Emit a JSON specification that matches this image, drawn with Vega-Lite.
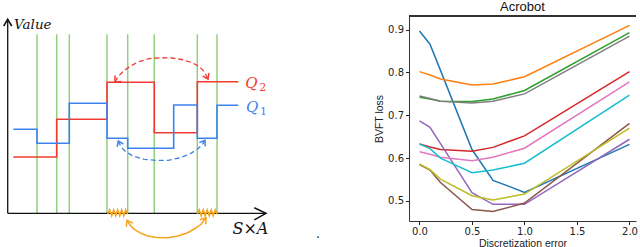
{
"$schema": "https://vega.github.io/schema/vega-lite/v6.json",
"padding": 0,
"background": "white",
"spacing": 33,
"config": {"view": {"stroke": null}, "font": "DejaVu Sans"},
"resolve": {"scale": {"color": "independent"}},
"datasets": {
"steps": [
{"series":"Q2","x":5.6,"y":56.3},{"series":"Q2","x":49,"y":94},{"series":"Q2","x":99.3,"y":131},{"series":"Q2","x":146.6,"y":80.6},{"series":"Q2","x":189.6,"y":131.6},{"series":"Q2","x":230.6,"y":131.6},
{"series":"Q1","x":5.6,"y":84},{"series":"Q1","x":29.3,"y":70},{"series":"Q1","x":61.6,"y":110},{"series":"Q1","x":99.3,"y":75},{"series":"Q1","x":120,"y":65},{"series":"Q1","x":166,"y":108.3},{"series":"Q1","x":189.6,"y":75},{"series":"Q1","x":209.3,"y":108},{"series":"Q1","x":230.6,"y":108}
],
"cuts": [{"x":29.3,"y":0,"y2":179},{"x":49,"y":0,"y2":179},{"x":61.6,"y":0,"y2":179},{"x":99.3,"y":0,"y2":179},{"x":120,"y":0,"y2":179},{"x":146.6,"y":0,"y2":179},{"x":189.6,"y":0,"y2":179},{"x":209.3,"y":0,"y2":179}],
"axes": [{"x":0,"y":0,"x2":0,"y2":194},{"x":0,"y":0,"x2":258.3,"y2":0}],
"dashed": [
{"path":"a2","series":"Q2","i":0,"x":107.3,"y":131.3},{"path":"a2","series":"Q2","i":1,"x":110.3,"y":136.5},{"path":"a2","series":"Q2","i":2,"x":115,"y":141.5},{"path":"a2","series":"Q2","i":3,"x":122,"y":146.8},{"path":"a2","series":"Q2","i":4,"x":131,"y":151.6},{"path":"a2","series":"Q2","i":5,"x":141.5,"y":154.6},{"path":"a2","series":"Q2","i":6,"x":153.3,"y":155.6},{"path":"a2","series":"Q2","i":7,"x":164,"y":155.3},{"path":"a2","series":"Q2","i":8,"x":174,"y":153.8},{"path":"a2","series":"Q2","i":9,"x":184,"y":150.8},{"path":"a2","series":"Q2","i":10,"x":191.5,"y":146.8},{"path":"a2","series":"Q2","i":11,"x":196.5,"y":141.8},{"path":"a2","series":"Q2","i":12,"x":200.3,"y":134.3},
{"path":"a1","series":"Q1","i":0,"x":110.6,"y":72.3},{"path":"a1","series":"Q1","i":1,"x":113.3,"y":66.3},{"path":"a1","series":"Q1","i":2,"x":118.3,"y":61.3},{"path":"a1","series":"Q1","i":3,"x":125.3,"y":57.3},{"path":"a1","series":"Q1","i":4,"x":136.3,"y":54},{"path":"a1","series":"Q1","i":5,"x":148.3,"y":52.8},{"path":"a1","series":"Q1","i":6,"x":160.3,"y":53},{"path":"a1","series":"Q1","i":7,"x":171.3,"y":55.3},{"path":"a1","series":"Q1","i":8,"x":181.3,"y":58.8},{"path":"a1","series":"Q1","i":9,"x":189.3,"y":63.8},{"path":"a1","series":"Q1","i":10,"x":194.3,"y":68.3},{"path":"a1","series":"Q1","i":11,"x":197.3,"y":73}
],
"solid": [
{"path":"ya","series":"axis","i":0,"x":-4,"y":187.3},{"path":"ya","series":"axis","i":1,"x":0,"y":194},{"path":"ya","series":"axis","i":2,"x":4,"y":187.3},
{"path":"xa","series":"axis","i":0,"x":246.6,"y":5.5},{"path":"xa","series":"axis","i":1,"x":258.3,"y":0},{"path":"xa","series":"axis","i":2,"x":246.6,"y":-6.5},
{"path":"h21","series":"Q2","i":0,"x":107.3,"y":137.8},{"path":"h21","series":"Q2","i":1,"x":107.3,"y":131.3},{"path":"h21","series":"Q2","i":2,"x":113.8,"y":131.8},
{"path":"h22","series":"Q2","i":0,"x":195,"y":137.2},{"path":"h22","series":"Q2","i":1,"x":200.3,"y":134.3},{"path":"h22","series":"Q2","i":2,"x":201.2,"y":140.3},
{"path":"h11","series":"Q1","i":0,"x":115.7,"y":69.2},{"path":"h11","series":"Q1","i":1,"x":110.6,"y":72.3},{"path":"h11","series":"Q1","i":2,"x":109.5,"y":66.4},
{"path":"h12","series":"Q1","i":0,"x":197.5,"y":67},{"path":"h12","series":"Q1","i":1,"x":197.3,"y":73},{"path":"h12","series":"Q1","i":2,"x":191.7,"y":70.8},
{"path":"oa","series":"link","i":0,"x":119.3,"y":-7},{"path":"oa","series":"link","i":1,"x":122.3,"y":-11.7},{"path":"oa","series":"link","i":2,"x":126.6,"y":-16},{"path":"oa","series":"link","i":3,"x":133.3,"y":-20},{"path":"oa","series":"link","i":4,"x":140,"y":-22.7},{"path":"oa","series":"link","i":5,"x":149.3,"y":-24.2},{"path":"oa","series":"link","i":6,"x":160,"y":-24.4},{"path":"oa","series":"link","i":7,"x":170.3,"y":-22.7},{"path":"oa","series":"link","i":8,"x":180,"y":-19.4},{"path":"oa","series":"link","i":9,"x":187.3,"y":-15.2},{"path":"oa","series":"link","i":10,"x":193.3,"y":-11},{"path":"oa","series":"link","i":11,"x":198.3,"y":-4.4},
{"path":"oh1","series":"link","i":0,"x":125.2,"y":-9.8},{"path":"oh1","series":"link","i":1,"x":119.3,"y":-7},{"path":"oh1","series":"link","i":2,"x":118.7,"y":-13.5},
{"path":"oh2","series":"link","i":0,"x":198.1,"y":-10.9},{"path":"oh2","series":"link","i":1,"x":198.3,"y":-4.4},{"path":"oh2","series":"link","i":2,"x":192.1,"y":-6.4},
{"path":"s1","series":"link","i":0,"x":100,"y":-1},{"path":"s1","series":"link","i":1,"x":102,"y":3.5},{"path":"s1","series":"link","i":2,"x":104,"y":-2.5},{"path":"s1","series":"link","i":3,"x":106,"y":3.5},{"path":"s1","series":"link","i":4,"x":108,"y":-2.5},{"path":"s1","series":"link","i":5,"x":110,"y":3.5},{"path":"s1","series":"link","i":6,"x":112,"y":-2.5},{"path":"s1","series":"link","i":7,"x":114,"y":3.5},{"path":"s1","series":"link","i":8,"x":116,"y":-2.5},{"path":"s1","series":"link","i":9,"x":118,"y":3.5},{"path":"s1","series":"link","i":10,"x":120,"y":-1},
{"path":"s2","series":"link","i":0,"x":189.5,"y":-1},{"path":"s2","series":"link","i":1,"x":191.5,"y":3.5},{"path":"s2","series":"link","i":2,"x":193.5,"y":-2.5},{"path":"s2","series":"link","i":3,"x":195.5,"y":3.5},{"path":"s2","series":"link","i":4,"x":197.5,"y":-2.5},{"path":"s2","series":"link","i":5,"x":199.5,"y":3.5},{"path":"s2","series":"link","i":6,"x":201.5,"y":-2.5},{"path":"s2","series":"link","i":7,"x":203.5,"y":3.5},{"path":"s2","series":"link","i":8,"x":205.5,"y":-2.5},{"path":"s2","series":"link","i":9,"x":207.5,"y":3.5},{"path":"s2","series":"link","i":10,"x":209.5,"y":-1}
],
"labels": [
{"role":"value","series":"axis","text":"Value","x":6.3,"y":184},
{"role":"q","series":"Q2","text":"Q","x":237.6,"y":125.3},
{"role":"q","series":"Q1","text":"Q","x":238.3,"y":101.3},
{"role":"sub","series":"Q2","text":"2","x":251.6,"y":122.3},
{"role":"sub","series":"Q1","text":"1","x":252.3,"y":98.3},
{"role":"sxa","series":"axis","text":"S×A","x":224.8,"y":-20.7},
{"role":"dot","series":"axis","text":".","x":308.3,"y":-25}
],
"loss": [
{"run":"r0","x":0,"y":0.897},{"run":"r0","x":0.1,"y":0.866},{"run":"r0","x":0.2,"y":0.805},{"run":"r0","x":0.5,"y":0.620},{"run":"r0","x":0.7,"y":0.548},{"run":"r0","x":1.0,"y":0.520},{"run":"r0","x":2.0,"y":0.632},
{"run":"r1","x":0,"y":0.802},{"run":"r1","x":0.1,"y":0.794},{"run":"r1","x":0.2,"y":0.785},{"run":"r1","x":0.5,"y":0.771},{"run":"r1","x":0.7,"y":0.773},{"run":"r1","x":1.0,"y":0.790},{"run":"r1","x":2.0,"y":0.910},
{"run":"r2","x":0,"y":0.742},{"run":"r2","x":0.1,"y":0.738},{"run":"r2","x":0.2,"y":0.733},{"run":"r2","x":0.5,"y":0.732},{"run":"r2","x":0.7,"y":0.738},{"run":"r2","x":1.0,"y":0.758},{"run":"r2","x":2.0,"y":0.893},
{"run":"r3","x":0,"y":0.633},{"run":"r3","x":0.1,"y":0.626},{"run":"r3","x":0.2,"y":0.620},{"run":"r3","x":0.5,"y":0.616},{"run":"r3","x":0.7,"y":0.625},{"run":"r3","x":1.0,"y":0.652},{"run":"r3","x":2.0,"y":0.802},
{"run":"r4","x":0,"y":0.687},{"run":"r4","x":0.1,"y":0.672},{"run":"r4","x":0.2,"y":0.634},{"run":"r4","x":0.5,"y":0.519},{"run":"r4","x":0.7,"y":0.492},{"run":"r4","x":1.0,"y":0.492},{"run":"r4","x":2.0,"y":0.644},
{"run":"r5","x":0,"y":0.585},{"run":"r5","x":0.1,"y":0.572},{"run":"r5","x":0.2,"y":0.543},{"run":"r5","x":0.5,"y":0.480},{"run":"r5","x":0.7,"y":0.475},{"run":"r5","x":1.0,"y":0.495},{"run":"r5","x":2.0,"y":0.681},
{"run":"r6","x":0,"y":0.615},{"run":"r6","x":0.1,"y":0.609},{"run":"r6","x":0.2,"y":0.602},{"run":"r6","x":0.5,"y":0.594},{"run":"r6","x":0.7,"y":0.602},{"run":"r6","x":1.0,"y":0.623},{"run":"r6","x":2.0,"y":0.778},
{"run":"r7","x":0,"y":0.745},{"run":"r7","x":0.1,"y":0.739},{"run":"r7","x":0.2,"y":0.733},{"run":"r7","x":0.5,"y":0.729},{"run":"r7","x":0.7,"y":0.733},{"run":"r7","x":1.0,"y":0.750},{"run":"r7","x":2.0,"y":0.885},
{"run":"r8","x":0,"y":0.586},{"run":"r8","x":0.1,"y":0.573},{"run":"r8","x":0.2,"y":0.551},{"run":"r8","x":0.5,"y":0.512},{"run":"r8","x":0.7,"y":0.502},{"run":"r8","x":1.0,"y":0.516},{"run":"r8","x":2.0,"y":0.670},
{"run":"r9","x":0,"y":0.633},{"run":"r9","x":0.1,"y":0.622},{"run":"r9","x":0.2,"y":0.600},{"run":"r9","x":0.5,"y":0.566},{"run":"r9","x":0.7,"y":0.572},{"run":"r9","x":1.0,"y":0.588},{"run":"r9","x":2.0,"y":0.747}
]
},
"hconcat": [
{
"width": 340, "height": 205,
"encoding": {
 "x": {"field":"x","type":"quantitative","scale":{"domain":[-6.7,333.3],"nice":false,"zero":false},"axis":null},
 "y": {"field":"y","type":"quantitative","scale":{"domain":[-7.7,197.3],"nice":false,"zero":false},"axis":null}
},
"layer": [
 {"data":{"name":"cuts"},"mark":{"type":"rule","color":"#8fd17c","strokeWidth":1.5},
  "encoding":{"y2":{"field":"y2"}}},
 {"data":{"name":"axes"},"mark":{"type":"rule","color":"#111111","strokeWidth":1.3},
  "encoding":{"x2":{"field":"x2"},"y2":{"field":"y2"}}},
 {"data":{"name":"steps"},"mark":{"type":"line","interpolate":"step-after","strokeWidth":1.6},
  "encoding":{"color":{"field":"series","type":"nominal","scale":{"domain":["axis","Q1","Q2","link"],"range":["#111111","#3d82ee","#ef3b31","#f5a31e"]},"legend":null}}},
 {"data":{"name":"dashed"},"mark":{"type":"line","strokeWidth":1.3,"strokeDash":[5,3]},
  "encoding":{"color":{"field":"series","type":"nominal","legend":null},"detail":{"field":"path"},"order":{"field":"i"}}},
 {"data":{"name":"solid"},"mark":{"type":"line","strokeWidth":1.5},
  "encoding":{"color":{"field":"series","type":"nominal","legend":null},"detail":{"field":"path"},"order":{"field":"i"}}},
 {"data":{"name":"labels"},"transform":[{"filter":"datum.role==='value'"}],"mark":{"type":"text","font":"DejaVu Serif","fontStyle":"italic","fontSize":13.5,"align":"left","baseline":"alphabetic"},
  "encoding":{"text":{"field":"text"},"color":{"field":"series","type":"nominal","legend":null}}},
 {"data":{"name":"labels"},"transform":[{"filter":"datum.role==='dot'"}],"mark":{"type":"text","font":"DejaVu Serif","fontSize":12,"align":"left","baseline":"alphabetic"},
  "encoding":{"text":{"field":"text"},"color":{"field":"series","type":"nominal","legend":null}}},
 {"data":{"name":"labels"},"transform":[{"filter":"datum.role==='q'"}],"mark":{"type":"text","font":"DejaVu Serif","fontStyle":"italic","fontSize":15,"align":"left","baseline":"alphabetic"},
  "encoding":{"text":{"field":"text"},"color":{"field":"series","type":"nominal","legend":null}}},
 {"data":{"name":"labels"},"transform":[{"filter":"datum.role==='sub'"}],"mark":{"type":"text","font":"DejaVu Serif","fontSize":11,"align":"left","baseline":"alphabetic"},
  "encoding":{"text":{"field":"text"},"color":{"field":"series","type":"nominal","legend":null}}},
 {"data":{"name":"labels"},"transform":[{"filter":"datum.role==='sxa'"}],"mark":{"type":"text","font":"DejaVu Serif","fontStyle":"italic","fontSize":16,"align":"left","baseline":"alphabetic"},
  "encoding":{"text":{"field":"text"},"color":{"field":"series","type":"nominal","legend":null}}}
]
},
{
"width": 227, "height": 205,
"title": {"text":"Acrobot","font":"Liberation Sans","fontSize":13,"fontWeight":"normal","color":"#111111","offset":2},
"data": {"name":"loss"},
"layer": [
 {"mark":{"type":"line","strokeWidth":1.5},
  "encoding":{
   "x":{"field":"x","type":"quantitative","scale":{"domain":[-0.1,2.062],"nice":false,"zero":false},
        "axis":{"values":[0,0.5,1,1.5,2],"format":".1f","grid":false,"tickSize":3.5,"tickColor":"#222222","domainColor":"#333333","labelFont":"DejaVu Sans","labelFontSize":10,"labelColor":"#222222","labelPadding":2,"labelFlush":false,"title":"Discretization error","titleFont":"Liberation Sans","titleFontSize":10.5,"titleFontWeight":"normal","titleColor":"#222222","titlePadding":1.5}},
   "y":{"field":"y","type":"quantitative","scale":{"domain":[0.453,0.932],"nice":false,"zero":false},
        "axis":{"values":[0.5,0.6,0.7,0.8,0.9],"format":".1f","grid":false,"tickSize":3.5,"tickColor":"#222222","domainColor":"#333333","labelFont":"DejaVu Sans","labelFontSize":10,"labelColor":"#222222","labelPadding":2,"labelFlush":false,"title":"BVFT loss","titleFont":"Liberation Sans","titleFontSize":10.5,"titleFontWeight":"normal","titleColor":"#222222","titlePadding":3}},
   "color":{"field":"run","type":"nominal","scale":{"domain":["r0","r1","r2","r3","r4","r5","r6","r7","r8","r9"],"range":["#1f77b4","#ff7f0e","#2ca02c","#d62728","#9467bd","#8c564b","#e377c2","#7f7f7f","#bcbd22","#17becf"]},"legend":null}
  }},
 {"mark":{"type":"rule","color":"#333333","strokeWidth":1},"encoding":{"y":{"datum":0.932}}}
]
}
]
}
